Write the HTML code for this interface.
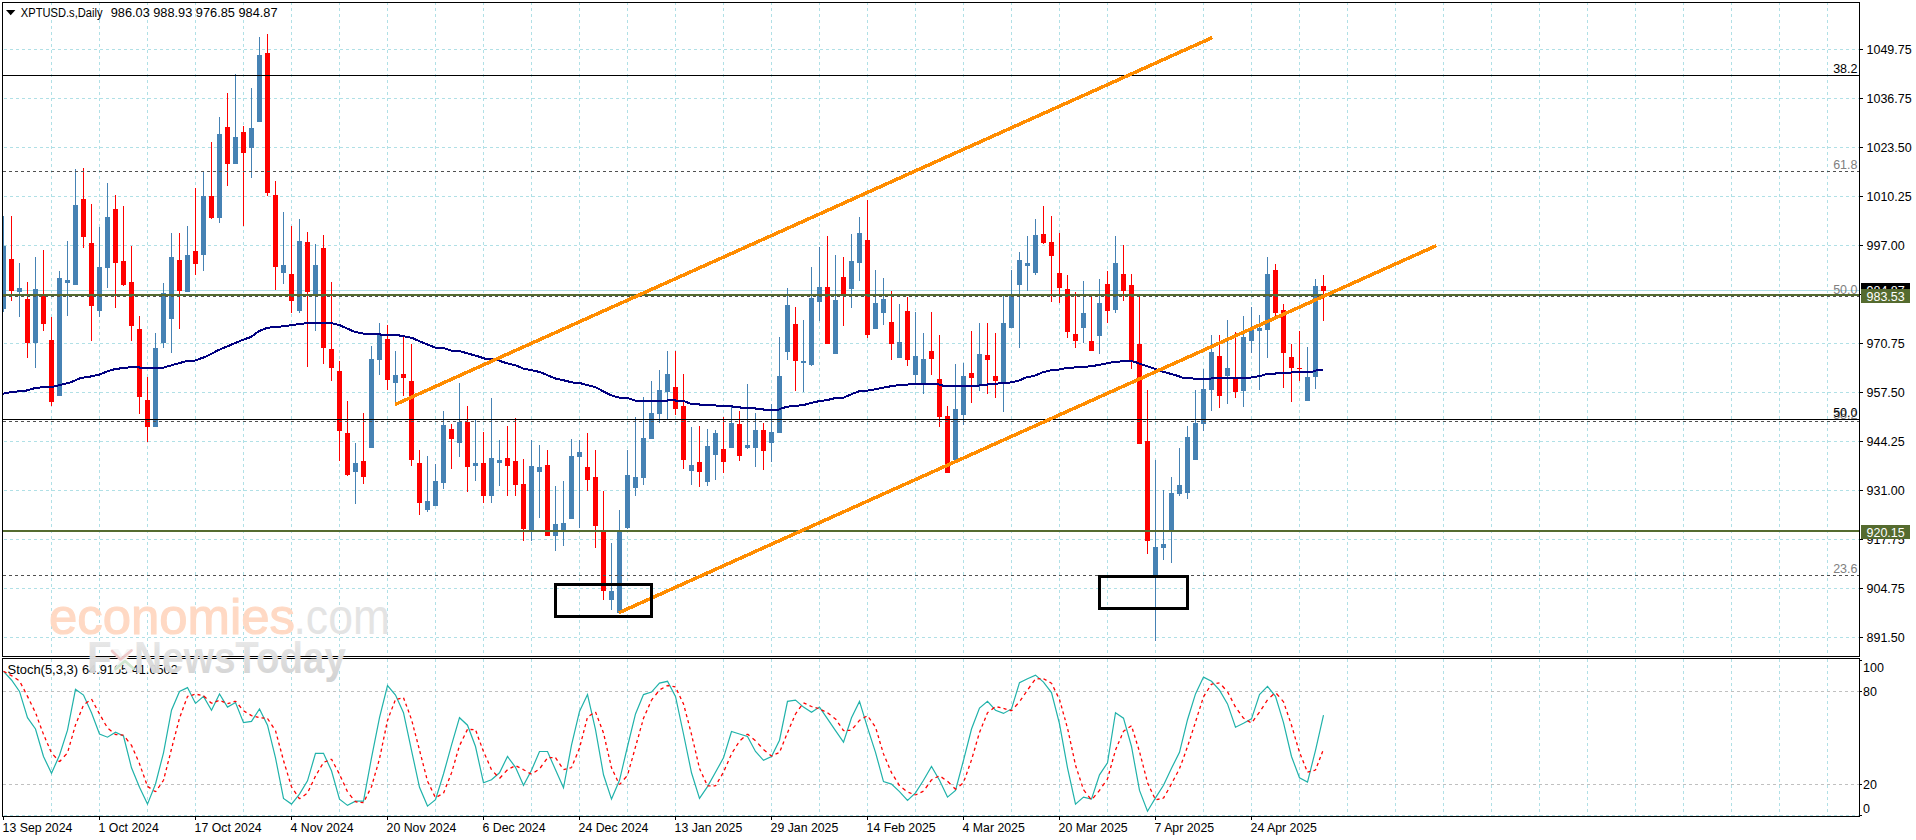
<!DOCTYPE html>
<html lang="en"><head><meta charset="utf-8"><title>XPTUSD.s Daily</title>
<style>html,body{margin:0;padding:0;background:#fff;overflow:hidden}svg{display:block}text{font-family:"Liberation Sans", sans-serif;font-size:12.5px;fill:#000}</style>
</head><body>
<svg width="1916" height="840" viewBox="0 0 1916 840">
<defs><linearGradient id="wg" x1="0" y1="0" x2="0" y2="1"><stop offset="0" stop-color="#ececec"/><stop offset="1" stop-color="#d0d0d0"/></linearGradient></defs>
<rect width="1916" height="840" fill="#fff"/>
<g shape-rendering="crispEdges" stroke="#b0e0e6" stroke-width="1" stroke-dasharray="3 3" fill="none">
<line x1="51.5" y1="2" x2="51.5" y2="656"/>
<line x1="51.5" y1="659" x2="51.5" y2="816"/>
<line x1="99.5" y1="2" x2="99.5" y2="656"/>
<line x1="99.5" y1="659" x2="99.5" y2="816"/>
<line x1="147.5" y1="2" x2="147.5" y2="656"/>
<line x1="147.5" y1="659" x2="147.5" y2="816"/>
<line x1="195.5" y1="2" x2="195.5" y2="656"/>
<line x1="195.5" y1="659" x2="195.5" y2="816"/>
<line x1="243.5" y1="2" x2="243.5" y2="656"/>
<line x1="243.5" y1="659" x2="243.5" y2="816"/>
<line x1="291.5" y1="2" x2="291.5" y2="656"/>
<line x1="291.5" y1="659" x2="291.5" y2="816"/>
<line x1="339.5" y1="2" x2="339.5" y2="656"/>
<line x1="339.5" y1="659" x2="339.5" y2="816"/>
<line x1="387.5" y1="2" x2="387.5" y2="656"/>
<line x1="387.5" y1="659" x2="387.5" y2="816"/>
<line x1="435.5" y1="2" x2="435.5" y2="656"/>
<line x1="435.5" y1="659" x2="435.5" y2="816"/>
<line x1="483.5" y1="2" x2="483.5" y2="656"/>
<line x1="483.5" y1="659" x2="483.5" y2="816"/>
<line x1="531.5" y1="2" x2="531.5" y2="656"/>
<line x1="531.5" y1="659" x2="531.5" y2="816"/>
<line x1="579.5" y1="2" x2="579.5" y2="656"/>
<line x1="579.5" y1="659" x2="579.5" y2="816"/>
<line x1="627.5" y1="2" x2="627.5" y2="656"/>
<line x1="627.5" y1="659" x2="627.5" y2="816"/>
<line x1="675.5" y1="2" x2="675.5" y2="656"/>
<line x1="675.5" y1="659" x2="675.5" y2="816"/>
<line x1="723.5" y1="2" x2="723.5" y2="656"/>
<line x1="723.5" y1="659" x2="723.5" y2="816"/>
<line x1="771.5" y1="2" x2="771.5" y2="656"/>
<line x1="771.5" y1="659" x2="771.5" y2="816"/>
<line x1="819.5" y1="2" x2="819.5" y2="656"/>
<line x1="819.5" y1="659" x2="819.5" y2="816"/>
<line x1="867.5" y1="2" x2="867.5" y2="656"/>
<line x1="867.5" y1="659" x2="867.5" y2="816"/>
<line x1="915.5" y1="2" x2="915.5" y2="656"/>
<line x1="915.5" y1="659" x2="915.5" y2="816"/>
<line x1="963.5" y1="2" x2="963.5" y2="656"/>
<line x1="963.5" y1="659" x2="963.5" y2="816"/>
<line x1="1011.5" y1="2" x2="1011.5" y2="656"/>
<line x1="1011.5" y1="659" x2="1011.5" y2="816"/>
<line x1="1059.5" y1="2" x2="1059.5" y2="656"/>
<line x1="1059.5" y1="659" x2="1059.5" y2="816"/>
<line x1="1107.5" y1="2" x2="1107.5" y2="656"/>
<line x1="1107.5" y1="659" x2="1107.5" y2="816"/>
<line x1="1155.5" y1="2" x2="1155.5" y2="656"/>
<line x1="1155.5" y1="659" x2="1155.5" y2="816"/>
<line x1="1203.5" y1="2" x2="1203.5" y2="656"/>
<line x1="1203.5" y1="659" x2="1203.5" y2="816"/>
<line x1="1251.5" y1="2" x2="1251.5" y2="656"/>
<line x1="1251.5" y1="659" x2="1251.5" y2="816"/>
<line x1="1299.5" y1="2" x2="1299.5" y2="656"/>
<line x1="1299.5" y1="659" x2="1299.5" y2="816"/>
<line x1="1347.5" y1="2" x2="1347.5" y2="656"/>
<line x1="1347.5" y1="659" x2="1347.5" y2="816"/>
<line x1="1395.5" y1="2" x2="1395.5" y2="656"/>
<line x1="1395.5" y1="659" x2="1395.5" y2="816"/>
<line x1="1443.5" y1="2" x2="1443.5" y2="656"/>
<line x1="1443.5" y1="659" x2="1443.5" y2="816"/>
<line x1="1491.5" y1="2" x2="1491.5" y2="656"/>
<line x1="1491.5" y1="659" x2="1491.5" y2="816"/>
<line x1="1539.5" y1="2" x2="1539.5" y2="656"/>
<line x1="1539.5" y1="659" x2="1539.5" y2="816"/>
<line x1="1587.5" y1="2" x2="1587.5" y2="656"/>
<line x1="1587.5" y1="659" x2="1587.5" y2="816"/>
<line x1="1635.5" y1="2" x2="1635.5" y2="656"/>
<line x1="1635.5" y1="659" x2="1635.5" y2="816"/>
<line x1="1683.5" y1="2" x2="1683.5" y2="656"/>
<line x1="1683.5" y1="659" x2="1683.5" y2="816"/>
<line x1="1731.5" y1="2" x2="1731.5" y2="656"/>
<line x1="1731.5" y1="659" x2="1731.5" y2="816"/>
<line x1="1779.5" y1="2" x2="1779.5" y2="656"/>
<line x1="1779.5" y1="659" x2="1779.5" y2="816"/>
<line x1="1827.5" y1="2" x2="1827.5" y2="656"/>
<line x1="1827.5" y1="659" x2="1827.5" y2="816"/>
<line x1="4" y1="49.5" x2="1859" y2="49.5"/>
<line x1="4" y1="98.5" x2="1859" y2="98.5"/>
<line x1="4" y1="147.5" x2="1859" y2="147.5"/>
<line x1="4" y1="196.5" x2="1859" y2="196.5"/>
<line x1="4" y1="245.5" x2="1859" y2="245.5"/>
<line x1="4" y1="294.5" x2="1859" y2="294.5"/>
<line x1="4" y1="343.5" x2="1859" y2="343.5"/>
<line x1="4" y1="392.5" x2="1859" y2="392.5"/>
<line x1="4" y1="441.5" x2="1859" y2="441.5"/>
<line x1="4" y1="490.5" x2="1859" y2="490.5"/>
<line x1="4" y1="539.5" x2="1859" y2="539.5"/>
<line x1="4" y1="588.5" x2="1859" y2="588.5"/>
<line x1="4" y1="637.5" x2="1859" y2="637.5"/>
<line x1="4" y1="815.5" x2="1859" y2="815.5"/>
</g>
<g shape-rendering="crispEdges" stroke="#c0c0c0" stroke-width="1" stroke-dasharray="3 3">
<line x1="3" y1="691.5" x2="1859" y2="691.5"/>
<line x1="3" y1="784.5" x2="1859" y2="784.5"/>
</g>
<rect x="3" y="290" width="1856" height="1" fill="#b0e0e6" shape-rendering="crispEdges"/>
<clipPath id="cc"><rect x="3" y="3" width="1856" height="653"/></clipPath>
<g shape-rendering="crispEdges" clip-path="url(#cc)">
<rect x="3" y="216" width="1" height="96" fill="#4682b4"/>
<rect x="1" y="246" width="5" height="63" fill="#4682b4"/>
<rect x="11" y="216" width="1" height="85" fill="#ff0000"/>
<rect x="9" y="259" width="5" height="32" fill="#ff0000"/>
<rect x="19" y="263" width="1" height="54" fill="#4682b4"/>
<rect x="17" y="288" width="5" height="4" fill="#4682b4"/>
<rect x="27" y="282" width="1" height="76" fill="#ff0000"/>
<rect x="25" y="299" width="5" height="44" fill="#ff0000"/>
<rect x="35" y="257" width="1" height="111" fill="#4682b4"/>
<rect x="33" y="289" width="5" height="54" fill="#4682b4"/>
<rect x="43" y="250" width="1" height="81" fill="#ff0000"/>
<rect x="41" y="296" width="5" height="28" fill="#ff0000"/>
<rect x="51" y="317" width="1" height="89" fill="#ff0000"/>
<rect x="49" y="340" width="5" height="62" fill="#ff0000"/>
<rect x="59" y="271" width="1" height="125" fill="#4682b4"/>
<rect x="57" y="278" width="5" height="118" fill="#4682b4"/>
<rect x="67" y="241" width="1" height="75" fill="#4682b4"/>
<rect x="65" y="280" width="5" height="3" fill="#4682b4"/>
<rect x="75" y="169" width="1" height="116" fill="#4682b4"/>
<rect x="73" y="205" width="5" height="80" fill="#4682b4"/>
<rect x="83" y="168" width="1" height="80" fill="#ff0000"/>
<rect x="81" y="199" width="5" height="38" fill="#ff0000"/>
<rect x="91" y="204" width="1" height="137" fill="#ff0000"/>
<rect x="89" y="243" width="5" height="63" fill="#ff0000"/>
<rect x="99" y="227" width="1" height="90" fill="#4682b4"/>
<rect x="97" y="267" width="5" height="44" fill="#4682b4"/>
<rect x="107" y="183" width="1" height="105" fill="#4682b4"/>
<rect x="105" y="217" width="5" height="51" fill="#4682b4"/>
<rect x="115" y="195" width="1" height="113" fill="#ff0000"/>
<rect x="113" y="209" width="5" height="54" fill="#ff0000"/>
<rect x="123" y="206" width="1" height="80" fill="#ff0000"/>
<rect x="121" y="261" width="5" height="24" fill="#ff0000"/>
<rect x="131" y="246" width="1" height="95" fill="#ff0000"/>
<rect x="129" y="282" width="5" height="44" fill="#ff0000"/>
<rect x="139" y="316" width="1" height="98" fill="#ff0000"/>
<rect x="137" y="329" width="5" height="68" fill="#ff0000"/>
<rect x="147" y="377" width="1" height="65" fill="#ff0000"/>
<rect x="145" y="400" width="5" height="27" fill="#ff0000"/>
<rect x="155" y="333" width="1" height="94" fill="#4682b4"/>
<rect x="153" y="348" width="5" height="79" fill="#4682b4"/>
<rect x="163" y="283" width="1" height="65" fill="#4682b4"/>
<rect x="161" y="293" width="5" height="50" fill="#4682b4"/>
<rect x="171" y="233" width="1" height="120" fill="#4682b4"/>
<rect x="169" y="257" width="5" height="62" fill="#4682b4"/>
<rect x="179" y="233" width="1" height="96" fill="#ff0000"/>
<rect x="177" y="260" width="5" height="31" fill="#ff0000"/>
<rect x="187" y="226" width="1" height="66" fill="#4682b4"/>
<rect x="185" y="255" width="5" height="37" fill="#4682b4"/>
<rect x="195" y="188" width="1" height="87" fill="#ff0000"/>
<rect x="193" y="251" width="5" height="13" fill="#ff0000"/>
<rect x="203" y="171" width="1" height="100" fill="#4682b4"/>
<rect x="201" y="196" width="5" height="59" fill="#4682b4"/>
<rect x="211" y="142" width="1" height="77" fill="#ff0000"/>
<rect x="209" y="196" width="5" height="22" fill="#ff0000"/>
<rect x="219" y="117" width="1" height="106" fill="#4682b4"/>
<rect x="217" y="134" width="5" height="84" fill="#4682b4"/>
<rect x="227" y="93" width="1" height="93" fill="#ff0000"/>
<rect x="225" y="127" width="5" height="37" fill="#ff0000"/>
<rect x="235" y="74" width="1" height="90" fill="#4682b4"/>
<rect x="233" y="137" width="5" height="27" fill="#4682b4"/>
<rect x="243" y="126" width="1" height="100" fill="#ff0000"/>
<rect x="241" y="132" width="5" height="21" fill="#ff0000"/>
<rect x="251" y="88" width="1" height="90" fill="#4682b4"/>
<rect x="249" y="128" width="5" height="20" fill="#4682b4"/>
<rect x="259" y="37" width="1" height="85" fill="#4682b4"/>
<rect x="257" y="55" width="5" height="67" fill="#4682b4"/>
<rect x="267" y="34" width="1" height="162" fill="#ff0000"/>
<rect x="265" y="53" width="5" height="140" fill="#ff0000"/>
<rect x="275" y="181" width="1" height="109" fill="#ff0000"/>
<rect x="273" y="195" width="5" height="72" fill="#ff0000"/>
<rect x="283" y="212" width="1" height="72" fill="#4682b4"/>
<rect x="281" y="265" width="5" height="8" fill="#4682b4"/>
<rect x="291" y="226" width="1" height="87" fill="#ff0000"/>
<rect x="289" y="274" width="5" height="27" fill="#ff0000"/>
<rect x="299" y="219" width="1" height="94" fill="#4682b4"/>
<rect x="297" y="241" width="5" height="70" fill="#4682b4"/>
<rect x="307" y="232" width="1" height="135" fill="#ff0000"/>
<rect x="305" y="242" width="5" height="50" fill="#ff0000"/>
<rect x="315" y="244" width="1" height="87" fill="#4682b4"/>
<rect x="313" y="265" width="5" height="30" fill="#4682b4"/>
<rect x="323" y="235" width="1" height="129" fill="#ff0000"/>
<rect x="321" y="248" width="5" height="100" fill="#ff0000"/>
<rect x="331" y="282" width="1" height="99" fill="#ff0000"/>
<rect x="329" y="349" width="5" height="19" fill="#ff0000"/>
<rect x="339" y="361" width="1" height="100" fill="#ff0000"/>
<rect x="337" y="371" width="5" height="60" fill="#ff0000"/>
<rect x="347" y="401" width="1" height="75" fill="#ff0000"/>
<rect x="345" y="433" width="5" height="42" fill="#ff0000"/>
<rect x="355" y="443" width="1" height="61" fill="#4682b4"/>
<rect x="353" y="463" width="5" height="9" fill="#4682b4"/>
<rect x="363" y="413" width="1" height="71" fill="#ff0000"/>
<rect x="361" y="461" width="5" height="16" fill="#ff0000"/>
<rect x="371" y="346" width="1" height="102" fill="#4682b4"/>
<rect x="369" y="359" width="5" height="89" fill="#4682b4"/>
<rect x="379" y="323" width="1" height="52" fill="#4682b4"/>
<rect x="377" y="335" width="5" height="25" fill="#4682b4"/>
<rect x="387" y="325" width="1" height="65" fill="#ff0000"/>
<rect x="385" y="339" width="5" height="41" fill="#ff0000"/>
<rect x="395" y="351" width="1" height="53" fill="#4682b4"/>
<rect x="393" y="375" width="5" height="8" fill="#4682b4"/>
<rect x="403" y="336" width="1" height="60" fill="#ff0000"/>
<rect x="401" y="374" width="5" height="4" fill="#ff0000"/>
<rect x="411" y="344" width="1" height="122" fill="#ff0000"/>
<rect x="409" y="381" width="5" height="79" fill="#ff0000"/>
<rect x="419" y="450" width="1" height="65" fill="#ff0000"/>
<rect x="417" y="463" width="5" height="40" fill="#ff0000"/>
<rect x="427" y="456" width="1" height="56" fill="#4682b4"/>
<rect x="425" y="501" width="5" height="9" fill="#4682b4"/>
<rect x="435" y="464" width="1" height="42" fill="#4682b4"/>
<rect x="433" y="481" width="5" height="25" fill="#4682b4"/>
<rect x="443" y="411" width="1" height="78" fill="#4682b4"/>
<rect x="441" y="425" width="5" height="58" fill="#4682b4"/>
<rect x="451" y="424" width="1" height="45" fill="#ff0000"/>
<rect x="449" y="429" width="5" height="10" fill="#ff0000"/>
<rect x="459" y="383" width="1" height="74" fill="#4682b4"/>
<rect x="457" y="422" width="5" height="21" fill="#4682b4"/>
<rect x="467" y="406" width="1" height="86" fill="#ff0000"/>
<rect x="465" y="422" width="5" height="45" fill="#ff0000"/>
<rect x="475" y="420" width="1" height="61" fill="#4682b4"/>
<rect x="473" y="463" width="5" height="3" fill="#4682b4"/>
<rect x="483" y="432" width="1" height="71" fill="#ff0000"/>
<rect x="481" y="463" width="5" height="33" fill="#ff0000"/>
<rect x="491" y="398" width="1" height="105" fill="#4682b4"/>
<rect x="489" y="458" width="5" height="38" fill="#4682b4"/>
<rect x="499" y="440" width="1" height="46" fill="#4682b4"/>
<rect x="497" y="460" width="5" height="3" fill="#4682b4"/>
<rect x="507" y="426" width="1" height="70" fill="#ff0000"/>
<rect x="505" y="458" width="5" height="8" fill="#ff0000"/>
<rect x="515" y="418" width="1" height="78" fill="#ff0000"/>
<rect x="513" y="461" width="5" height="24" fill="#ff0000"/>
<rect x="523" y="459" width="1" height="82" fill="#ff0000"/>
<rect x="521" y="484" width="5" height="45" fill="#ff0000"/>
<rect x="531" y="440" width="1" height="101" fill="#4682b4"/>
<rect x="529" y="466" width="5" height="66" fill="#4682b4"/>
<rect x="539" y="445" width="1" height="73" fill="#4682b4"/>
<rect x="537" y="467" width="5" height="5" fill="#4682b4"/>
<rect x="547" y="450" width="1" height="86" fill="#ff0000"/>
<rect x="545" y="465" width="5" height="71" fill="#ff0000"/>
<rect x="555" y="486" width="1" height="65" fill="#4682b4"/>
<rect x="553" y="524" width="5" height="12" fill="#4682b4"/>
<rect x="563" y="481" width="1" height="65" fill="#4682b4"/>
<rect x="561" y="523" width="5" height="7" fill="#4682b4"/>
<rect x="571" y="439" width="1" height="80" fill="#4682b4"/>
<rect x="569" y="456" width="5" height="63" fill="#4682b4"/>
<rect x="579" y="440" width="1" height="88" fill="#4682b4"/>
<rect x="577" y="452" width="5" height="5" fill="#4682b4"/>
<rect x="587" y="433" width="1" height="58" fill="#ff0000"/>
<rect x="585" y="467" width="5" height="13" fill="#ff0000"/>
<rect x="595" y="450" width="1" height="98" fill="#ff0000"/>
<rect x="593" y="477" width="5" height="49" fill="#ff0000"/>
<rect x="603" y="491" width="1" height="109" fill="#ff0000"/>
<rect x="601" y="531" width="5" height="60" fill="#ff0000"/>
<rect x="611" y="543" width="1" height="67" fill="#4682b4"/>
<rect x="609" y="591" width="5" height="9" fill="#4682b4"/>
<rect x="619" y="510" width="1" height="103" fill="#4682b4"/>
<rect x="617" y="531" width="5" height="82" fill="#4682b4"/>
<rect x="627" y="450" width="1" height="79" fill="#4682b4"/>
<rect x="625" y="475" width="5" height="53" fill="#4682b4"/>
<rect x="635" y="417" width="1" height="79" fill="#4682b4"/>
<rect x="633" y="477" width="5" height="11" fill="#4682b4"/>
<rect x="643" y="397" width="1" height="88" fill="#4682b4"/>
<rect x="641" y="438" width="5" height="40" fill="#4682b4"/>
<rect x="651" y="381" width="1" height="58" fill="#4682b4"/>
<rect x="649" y="413" width="5" height="26" fill="#4682b4"/>
<rect x="659" y="370" width="1" height="53" fill="#4682b4"/>
<rect x="657" y="390" width="5" height="24" fill="#4682b4"/>
<rect x="667" y="351" width="1" height="68" fill="#4682b4"/>
<rect x="665" y="374" width="5" height="18" fill="#4682b4"/>
<rect x="675" y="351" width="1" height="64" fill="#ff0000"/>
<rect x="673" y="387" width="5" height="22" fill="#ff0000"/>
<rect x="683" y="374" width="1" height="95" fill="#ff0000"/>
<rect x="681" y="406" width="5" height="54" fill="#ff0000"/>
<rect x="691" y="427" width="1" height="58" fill="#4682b4"/>
<rect x="689" y="465" width="5" height="6" fill="#4682b4"/>
<rect x="699" y="426" width="1" height="61" fill="#ff0000"/>
<rect x="697" y="462" width="5" height="10" fill="#ff0000"/>
<rect x="707" y="429" width="1" height="57" fill="#4682b4"/>
<rect x="705" y="446" width="5" height="36" fill="#4682b4"/>
<rect x="715" y="430" width="1" height="50" fill="#4682b4"/>
<rect x="713" y="433" width="5" height="22" fill="#4682b4"/>
<rect x="723" y="417" width="1" height="56" fill="#ff0000"/>
<rect x="721" y="449" width="5" height="13" fill="#ff0000"/>
<rect x="731" y="407" width="1" height="41" fill="#4682b4"/>
<rect x="729" y="423" width="5" height="25" fill="#4682b4"/>
<rect x="739" y="411" width="1" height="50" fill="#ff0000"/>
<rect x="737" y="424" width="5" height="32" fill="#ff0000"/>
<rect x="747" y="384" width="1" height="65" fill="#4682b4"/>
<rect x="745" y="445" width="5" height="3" fill="#4682b4"/>
<rect x="755" y="413" width="1" height="54" fill="#4682b4"/>
<rect x="753" y="430" width="5" height="18" fill="#4682b4"/>
<rect x="763" y="423" width="1" height="47" fill="#ff0000"/>
<rect x="761" y="430" width="5" height="21" fill="#ff0000"/>
<rect x="771" y="404" width="1" height="58" fill="#4682b4"/>
<rect x="769" y="432" width="5" height="11" fill="#4682b4"/>
<rect x="779" y="337" width="1" height="96" fill="#4682b4"/>
<rect x="777" y="376" width="5" height="57" fill="#4682b4"/>
<rect x="787" y="288" width="1" height="72" fill="#4682b4"/>
<rect x="785" y="305" width="5" height="47" fill="#4682b4"/>
<rect x="795" y="307" width="1" height="84" fill="#ff0000"/>
<rect x="793" y="324" width="5" height="37" fill="#ff0000"/>
<rect x="803" y="320" width="1" height="72" fill="#4682b4"/>
<rect x="801" y="361" width="5" height="2" fill="#4682b4"/>
<rect x="811" y="267" width="1" height="99" fill="#4682b4"/>
<rect x="809" y="298" width="5" height="67" fill="#4682b4"/>
<rect x="819" y="247" width="1" height="74" fill="#4682b4"/>
<rect x="817" y="287" width="5" height="15" fill="#4682b4"/>
<rect x="827" y="236" width="1" height="108" fill="#ff0000"/>
<rect x="825" y="287" width="5" height="57" fill="#ff0000"/>
<rect x="835" y="255" width="1" height="99" fill="#4682b4"/>
<rect x="833" y="300" width="5" height="54" fill="#4682b4"/>
<rect x="843" y="257" width="1" height="69" fill="#ff0000"/>
<rect x="841" y="277" width="5" height="19" fill="#ff0000"/>
<rect x="851" y="234" width="1" height="74" fill="#4682b4"/>
<rect x="849" y="261" width="5" height="28" fill="#4682b4"/>
<rect x="859" y="217" width="1" height="64" fill="#4682b4"/>
<rect x="857" y="233" width="5" height="30" fill="#4682b4"/>
<rect x="867" y="200" width="1" height="138" fill="#ff0000"/>
<rect x="865" y="240" width="5" height="95" fill="#ff0000"/>
<rect x="875" y="270" width="1" height="59" fill="#4682b4"/>
<rect x="873" y="303" width="5" height="26" fill="#4682b4"/>
<rect x="883" y="278" width="1" height="47" fill="#4682b4"/>
<rect x="881" y="299" width="5" height="14" fill="#4682b4"/>
<rect x="891" y="291" width="1" height="69" fill="#ff0000"/>
<rect x="889" y="322" width="5" height="22" fill="#ff0000"/>
<rect x="899" y="304" width="1" height="54" fill="#4682b4"/>
<rect x="897" y="342" width="5" height="16" fill="#4682b4"/>
<rect x="907" y="297" width="1" height="69" fill="#ff0000"/>
<rect x="905" y="311" width="5" height="49" fill="#ff0000"/>
<rect x="915" y="312" width="1" height="71" fill="#4682b4"/>
<rect x="913" y="356" width="5" height="19" fill="#4682b4"/>
<rect x="923" y="333" width="1" height="61" fill="#4682b4"/>
<rect x="921" y="359" width="5" height="25" fill="#4682b4"/>
<rect x="931" y="312" width="1" height="63" fill="#ff0000"/>
<rect x="929" y="351" width="5" height="8" fill="#ff0000"/>
<rect x="939" y="335" width="1" height="92" fill="#ff0000"/>
<rect x="937" y="379" width="5" height="38" fill="#ff0000"/>
<rect x="947" y="406" width="1" height="67" fill="#ff0000"/>
<rect x="945" y="416" width="5" height="57" fill="#ff0000"/>
<rect x="955" y="364" width="1" height="96" fill="#4682b4"/>
<rect x="953" y="409" width="5" height="51" fill="#4682b4"/>
<rect x="963" y="363" width="1" height="62" fill="#4682b4"/>
<rect x="961" y="376" width="5" height="39" fill="#4682b4"/>
<rect x="971" y="331" width="1" height="72" fill="#ff0000"/>
<rect x="969" y="373" width="5" height="5" fill="#ff0000"/>
<rect x="979" y="323" width="1" height="68" fill="#4682b4"/>
<rect x="977" y="354" width="5" height="31" fill="#4682b4"/>
<rect x="987" y="323" width="1" height="71" fill="#ff0000"/>
<rect x="985" y="355" width="5" height="5" fill="#ff0000"/>
<rect x="995" y="333" width="1" height="65" fill="#ff0000"/>
<rect x="993" y="376" width="5" height="5" fill="#ff0000"/>
<rect x="1003" y="296" width="1" height="116" fill="#4682b4"/>
<rect x="1001" y="323" width="5" height="60" fill="#4682b4"/>
<rect x="1011" y="270" width="1" height="58" fill="#4682b4"/>
<rect x="1009" y="295" width="5" height="33" fill="#4682b4"/>
<rect x="1019" y="252" width="1" height="96" fill="#4682b4"/>
<rect x="1017" y="260" width="5" height="25" fill="#4682b4"/>
<rect x="1027" y="236" width="1" height="55" fill="#4682b4"/>
<rect x="1025" y="263" width="5" height="3" fill="#4682b4"/>
<rect x="1035" y="219" width="1" height="56" fill="#4682b4"/>
<rect x="1033" y="235" width="5" height="38" fill="#4682b4"/>
<rect x="1043" y="206" width="1" height="38" fill="#ff0000"/>
<rect x="1041" y="234" width="5" height="9" fill="#ff0000"/>
<rect x="1051" y="216" width="1" height="86" fill="#ff0000"/>
<rect x="1049" y="242" width="5" height="14" fill="#ff0000"/>
<rect x="1059" y="233" width="1" height="70" fill="#ff0000"/>
<rect x="1057" y="273" width="5" height="15" fill="#ff0000"/>
<rect x="1067" y="275" width="1" height="63" fill="#ff0000"/>
<rect x="1065" y="289" width="5" height="43" fill="#ff0000"/>
<rect x="1075" y="292" width="1" height="56" fill="#ff0000"/>
<rect x="1073" y="334" width="5" height="7" fill="#ff0000"/>
<rect x="1083" y="281" width="1" height="62" fill="#4682b4"/>
<rect x="1081" y="313" width="5" height="15" fill="#4682b4"/>
<rect x="1091" y="296" width="1" height="55" fill="#ff0000"/>
<rect x="1089" y="341" width="5" height="10" fill="#ff0000"/>
<rect x="1099" y="279" width="1" height="75" fill="#4682b4"/>
<rect x="1097" y="303" width="5" height="33" fill="#4682b4"/>
<rect x="1107" y="271" width="1" height="52" fill="#ff0000"/>
<rect x="1105" y="284" width="5" height="27" fill="#ff0000"/>
<rect x="1115" y="236" width="1" height="77" fill="#4682b4"/>
<rect x="1113" y="263" width="5" height="47" fill="#4682b4"/>
<rect x="1123" y="245" width="1" height="56" fill="#ff0000"/>
<rect x="1121" y="274" width="5" height="17" fill="#ff0000"/>
<rect x="1131" y="274" width="1" height="95" fill="#ff0000"/>
<rect x="1129" y="285" width="5" height="76" fill="#ff0000"/>
<rect x="1139" y="297" width="1" height="147" fill="#ff0000"/>
<rect x="1137" y="344" width="5" height="100" fill="#ff0000"/>
<rect x="1147" y="390" width="1" height="164" fill="#ff0000"/>
<rect x="1145" y="441" width="5" height="100" fill="#ff0000"/>
<rect x="1155" y="460" width="1" height="181" fill="#4682b4"/>
<rect x="1153" y="547" width="5" height="28" fill="#4682b4"/>
<rect x="1163" y="490" width="1" height="70" fill="#4682b4"/>
<rect x="1161" y="544" width="5" height="4" fill="#4682b4"/>
<rect x="1171" y="477" width="1" height="86" fill="#4682b4"/>
<rect x="1169" y="493" width="5" height="37" fill="#4682b4"/>
<rect x="1179" y="448" width="1" height="48" fill="#4682b4"/>
<rect x="1177" y="485" width="5" height="9" fill="#4682b4"/>
<rect x="1187" y="426" width="1" height="73" fill="#4682b4"/>
<rect x="1185" y="437" width="5" height="56" fill="#4682b4"/>
<rect x="1195" y="390" width="1" height="70" fill="#4682b4"/>
<rect x="1193" y="423" width="5" height="37" fill="#4682b4"/>
<rect x="1203" y="369" width="1" height="62" fill="#4682b4"/>
<rect x="1201" y="389" width="5" height="35" fill="#4682b4"/>
<rect x="1211" y="335" width="1" height="76" fill="#4682b4"/>
<rect x="1209" y="352" width="5" height="38" fill="#4682b4"/>
<rect x="1219" y="335" width="1" height="73" fill="#ff0000"/>
<rect x="1217" y="356" width="5" height="40" fill="#ff0000"/>
<rect x="1227" y="320" width="1" height="84" fill="#4682b4"/>
<rect x="1225" y="368" width="5" height="8" fill="#4682b4"/>
<rect x="1235" y="332" width="1" height="66" fill="#ff0000"/>
<rect x="1233" y="378" width="5" height="14" fill="#ff0000"/>
<rect x="1243" y="316" width="1" height="91" fill="#4682b4"/>
<rect x="1241" y="337" width="5" height="54" fill="#4682b4"/>
<rect x="1251" y="307" width="1" height="46" fill="#4682b4"/>
<rect x="1249" y="329" width="5" height="12" fill="#4682b4"/>
<rect x="1259" y="315" width="1" height="75" fill="#4682b4"/>
<rect x="1257" y="328" width="5" height="3" fill="#4682b4"/>
<rect x="1267" y="257" width="1" height="101" fill="#4682b4"/>
<rect x="1265" y="274" width="5" height="56" fill="#4682b4"/>
<rect x="1275" y="264" width="1" height="52" fill="#ff0000"/>
<rect x="1273" y="270" width="5" height="43" fill="#ff0000"/>
<rect x="1283" y="304" width="1" height="84" fill="#ff0000"/>
<rect x="1281" y="310" width="5" height="43" fill="#ff0000"/>
<rect x="1291" y="344" width="1" height="58" fill="#ff0000"/>
<rect x="1289" y="357" width="5" height="11" fill="#ff0000"/>
<rect x="1299" y="331" width="1" height="50" fill="#ff0000"/>
<rect x="1297" y="368" width="5" height="1" fill="#ff0000"/>
<rect x="1307" y="347" width="1" height="54" fill="#4682b4"/>
<rect x="1305" y="377" width="5" height="24" fill="#4682b4"/>
<rect x="1315" y="279" width="1" height="110" fill="#4682b4"/>
<rect x="1313" y="286" width="5" height="91" fill="#4682b4"/>
<rect x="1323" y="275" width="1" height="46" fill="#ff0000"/>
<rect x="1321" y="286" width="5" height="5" fill="#ff0000"/>
</g>
<polyline shape-rendering="crispEdges" fill="none" stroke="#000080" stroke-width="2" points="3,393.75 12.5,391.9 25,390.9 35,388.1 43.75,387.1 53.75,386.5 60,385 70,382.5 81,377.9 90,376.6 100,374.4 106,371.9 115,369 125,367.9 132.5,366.9 138,366.9 140.6,367.9 162.5,367.9 172.5,365 185,361.5 195,360.6 205,356.9 218.75,350 240,341 251,336.9 258.75,331.25 267.5,327.75 275,327.1 283.75,326.25 292.5,325 300,324 307.5,323.1 331.25,323.1 340,325.25 347.5,328.75 355,331.9 363.75,333.75 378.75,334 381.25,334.75 395,334.75 402.5,336 412.5,338.1 422.5,342.5 435,347.5 443.75,348.1 452.5,350.9 460,351.25 480,356.9 485,358.75 497.5,360 505,362.75 516,365.4 523.75,368.75 531,370 540,372.1 547.5,375.25 555,378.4 562.5,380 572.5,382.5 580,383.1 587.5,385.25 595,386.9 602.5,390.9 611,395.25 618.75,397.5 627.5,398.1 635,400.6 667.5,400.6 668.75,399.6 674,399.6 676,400.9 683,400.9 691,403.75 698.75,403.75 700,404.75 715,404.75 716,405.6 731,405.6 732.5,406.6 739,406.6 740.6,407.75 755,407.75 756,408.75 763,408.75 764,409.75 778.75,409.75 781,408.5 787.5,406.6 795,406 803.75,405 811,402.9 820,401 827.5,400 835,398.1 843.75,397.5 851,394.4 860,390.9 867,390.6 875,389.4 884,387.5 891,386.25 900,385 916,384 937,384 943,385.6 979,385.6 981,384.6 995,384.4 998,383.5 1010,382.5 1019,380.6 1026,377.5 1035,375.6 1042,372.5 1051,370.25 1060,369.4 1067,367.9 1082,367.1 1091,366.25 1100,364.75 1111,362.5 1116,361.9 1125,360.9 1131,360.9 1135,362 1140,363.75 1155,368.75 1162,371.5 1175,375 1183,377.75 1196,378.75 1210,378.75 1213,377.75 1250,377.75 1260,376 1267,374 1275,373.75 1277,372.5 1291,372.5 1293,371.5 1313,371.5 1318,370 1323,369.75"/>
<g shape-rendering="crispEdges">
<rect x="3" y="75" width="1856" height="1" fill="#000"/>
<rect x="3" y="419" width="1856" height="1" fill="#000"/>
<g stroke="#505050" stroke-width="1" stroke-dasharray="3 3">
<line x1="3" y1="171.5" x2="1859" y2="171.5"/>
<line x1="3" y1="296.5" x2="1859" y2="296.5"/>
<line x1="3" y1="421.5" x2="1859" y2="421.5"/>
<line x1="3" y1="575.5" x2="1859" y2="575.5"/>
</g>
<rect x="3" y="294" width="1856" height="2" fill="#556b2f"/>
<rect x="3" y="530" width="1856" height="2" fill="#556b2f"/>
</g>
<g shape-rendering="crispEdges" stroke="#ff8c00" stroke-width="3.5" stroke-linecap="butt">
<line x1="395" y1="404.6" x2="1212.3" y2="37.6"/>
<line x1="619" y1="612.7" x2="1436.2" y2="245.7"/>
</g>
<g shape-rendering="crispEdges" fill="none" stroke="#000" stroke-width="3" stroke-linejoin="round">
<rect x="555.5" y="584.5" width="96" height="32"/>
<rect x="1099.5" y="576.5" width="88" height="32"/>
</g>
<polyline fill="none" stroke="#20b2aa" stroke-width="1.2" points="3.5,671.3 11.5,680 19.5,691.4 27.5,717.7 35.5,729 43.5,756.5 51.5,773.3 59.5,755.3 67.5,730.2 75.5,689.3 83.5,695.1 91.5,712.7 99.5,734 107.5,737.2 115.5,732.2 123.5,736 131.5,767.8 139.5,787.3 147.5,804.1 155.5,784 163.5,752.8 171.5,710.2 179.5,691.4 187.5,687.6 195.5,703.4 203.5,696.4 211.5,710.2 219.5,693.9 227.5,707.1 235.5,702.6 243.5,722.7 251.5,721.4 259.5,708.9 267.5,725.2 275.5,757.8 283.5,798.4 291.5,804.1 299.5,794.1 307.5,780.8 315.5,753.3 323.5,753.3 331.5,770.8 339.5,799.1 347.5,805.4 355.5,801.1 363.5,801.1 371.5,757.8 379.5,717.7 387.5,685.6 395.5,695.1 403.5,712.7 411.5,750.3 419.5,787.3 427.5,806.1 435.5,799.6 443.5,774 451.5,745.2 459.5,717.7 467.5,725.2 475.5,746.5 483.5,782.8 491.5,779.8 499.5,772.8 507.5,756.5 515.5,767.3 523.5,785.3 531.5,770.3 539.5,751.5 547.5,751.5 555.5,769.8 563.5,787.8 571.5,745.2 579.5,711.4 587.5,694.6 595.5,729.7 603.5,774.8 611.5,799.1 619.5,780.3 627.5,746.5 635.5,713.9 643.5,694.6 651.5,692.1 659.5,683.1 667.5,681.3 675.5,696.4 683.5,734 691.5,772.8 699.5,798.4 707.5,786.6 715.5,772.3 723.5,757.8 731.5,731.5 739.5,734 747.5,736.5 755.5,751.5 763.5,760.3 771.5,756.5 779.5,740.2 787.5,701.4 795.5,700.1 803.5,707.1 811.5,712.2 819.5,707.1 827.5,718.9 835.5,730.7 843.5,742.2 851.5,717.7 859.5,701.4 867.5,727.7 875.5,752.3 883.5,781.6 891.5,784.1 899.5,791.6 907.5,800.4 915.5,792.9 923.5,780.3 931.5,766.5 939.5,780.3 947.5,797.1 955.5,790.4 963.5,760.3 971.5,729 979.5,708.1 987.5,701.4 995.5,710.2 1003.5,713.4 1011.5,708.9 1019.5,682.6 1027.5,678.8 1035.5,675.1 1043.5,682.1 1051.5,692.6 1059.5,723.9 1067.5,767.8 1075.5,804.1 1083.5,797.1 1091.5,799.1 1099.5,774.8 1107.5,762.8 1115.5,712.7 1123.5,718.2 1131.5,746.5 1139.5,790.4 1147.5,811.2 1155.5,797.9 1163.5,785.3 1171.5,768.3 1179.5,752.3 1187.5,719.7 1195.5,693.9 1203.5,677.1 1211.5,681.3 1219.5,690.1 1227.5,703.9 1235.5,727.2 1243.5,723.2 1251.5,718.9 1259.5,694.6 1267.5,686.3 1275.5,696.4 1283.5,722.7 1291.5,756.5 1299.5,777.8 1307.5,782.1 1315.5,750.3 1323.5,715.2"/>
<path fill="none" stroke="#ff0000" stroke-width="1.3" d="M3.5 671.3L6.5 672.9M9.5 674.6L11.5 675.6M11.5 675.6L12.5 676.3M15.5 678.3L18.5 680.2M20.6 683.0L22.2 686.1M23.8 689.1L25.4 692.2M27.0 695.3L27.5 696.4M27.5 696.4L28.5 698.4M30.0 701.5L31.5 704.5M33.0 707.6L34.5 710.7M35.9 713.7L37.0 716.6M38.0 719.6L39.1 722.6M40.2 725.5L41.3 728.5M42.4 731.4L43.5 734.4M44.8 737.3L46.0 740.3M47.3 743.2L48.6 746.1M49.8 749.0L51.1 752.0M53.3 754.9L55.9 757.8M58.6 760.7L59.5 761.7M59.5 761.7L61.3 759.8M63.9 756.8L66.6 753.9M68.1 750.9L68.9 747.9M69.8 744.9L70.6 741.9M71.5 738.9L72.4 735.9M73.2 732.9L74.1 729.9M74.9 726.9L75.5 724.9M75.5 724.9L75.9 723.9M77.1 720.9L78.3 717.9M79.5 714.9L80.7 711.9M81.9 708.9L83.1 705.9M85.5 703.4L88.5 701.2M91.5 699.0L93.1 702.0M94.7 705.0L96.3 708.0M97.9 711.0L99.5 713.9M101.2 716.9L102.9 719.9M104.6 723.0L106.4 726.0M108.5 728.8L111.5 731.2M114.5 733.7L115.5 734.5M115.5 734.5L117.5 734.6M120.5 734.9L123.5 735.1M125.9 738.2L128.3 741.3M130.7 744.3L131.5 745.3M131.5 745.3L132.4 747.4M133.7 750.4L135.1 753.5M136.4 756.6L137.7 759.6M139.1 762.7L139.5 763.7M139.5 763.7L140.2 765.7M141.2 768.6L142.3 771.6M143.3 774.6L144.4 777.5M145.4 780.5L146.5 783.4M147.5 786.4L150.5 788.4M153.5 790.5L155.5 791.8M155.5 791.8L156.2 790.8M158.2 788.0L160.2 785.1M162.2 782.2L163.5 780.3M163.5 780.3L163.8 779.3M164.5 776.3L165.3 773.2M166.1 770.2L166.9 767.2M167.6 764.1L168.4 761.1M169.2 758.1L170.0 755.1M170.7 752.0L171.5 749.0M172.3 746.0L173.0 743.0M173.8 740.0L174.6 737.1M175.4 734.1L176.1 731.1M176.9 728.1L177.7 725.1M178.5 722.1L179.2 719.1M180.2 716.2L181.3 713.2M182.4 710.2L183.5 707.3M184.6 704.3L185.7 701.3M186.8 698.4L187.5 696.4M187.5 696.4L188.5 696.1M191.5 695.3L194.5 694.4M197.5 694.5L200.5 695.2M203.5 695.8L206.5 698.6M209.5 701.5L211.5 703.3M211.5 703.3L212.5 702.9M215.5 701.8L218.5 700.6M221.5 701.1L224.5 702.4M227.5 703.7L230.5 702.8M233.5 701.8L235.5 701.2M235.5 701.2L236.3 702.2M238.7 705.0L241.1 707.9M243.5 710.8L246.5 712.6M249.5 714.4L251.5 715.6M251.5 715.6L252.5 715.8M255.5 716.6L258.5 717.4M261.5 717.9L264.5 718.2M267.5 718.5L269.5 721.5M271.5 724.6L273.5 727.6M275.5 730.6L276.3 733.6M277.1 736.6L277.9 739.6M278.7 742.6L279.5 745.5M280.3 748.5L281.1 751.5M281.9 754.5L282.7 757.5M283.5 760.5L284.4 763.5M285.3 766.5L286.3 769.6M287.2 772.6L288.1 775.6M289.0 778.7L290.0 781.7M290.9 784.7L291.5 786.8M291.5 786.8L292.2 787.8M294.2 790.8L296.2 793.8M298.2 796.9L299.5 798.9M299.5 798.9L300.5 798.1M303.5 795.9L306.5 793.7M308.4 791.0L309.9 788.0M311.3 785.0L312.7 782.0M314.1 779.1L315.5 776.1M317.2 773.2L318.9 770.2M320.6 767.3L322.4 764.4M324.5 762.0L327.5 760.8M330.5 759.5L331.5 759.1M331.5 759.1L332.6 761.2M334.2 764.2L335.8 767.3M337.4 770.3L339.0 773.4M340.4 776.4L341.9 779.5M343.3 782.6L344.7 785.6M346.1 788.7L347.5 791.8M349.9 794.8L352.3 797.8M354.7 800.9L355.5 801.9M355.5 801.9L357.5 802.0M360.5 802.3L363.5 802.5M365.0 799.6L366.5 796.6M368.0 793.6L369.5 790.6M371.0 787.7L371.5 786.7M371.5 786.7L372.1 784.7M372.9 781.7L373.8 778.7M374.6 775.7L375.5 772.8M376.4 769.8L377.2 766.8M378.1 763.8L378.9 760.9M379.7 757.9L380.3 754.8M381.0 751.8L381.6 748.7M382.2 745.7L382.9 742.7M383.5 739.6L384.1 736.6M384.8 733.5L385.4 730.5M386.0 727.5L386.7 724.4M387.3 721.4L387.5 720.4M387.5 720.4L388.3 718.4M389.4 715.4L390.5 712.4M391.7 709.4L392.8 706.4M394.0 703.4L395.1 700.5M397.5 699.1L400.5 698.4M403.5 697.8L404.6 700.7M405.7 703.7L406.8 706.6M407.9 709.6L409.0 712.5M410.0 715.4L411.1 718.4M412.0 721.3L412.8 724.3M413.6 727.3L414.3 730.3M415.1 733.2L415.9 736.2M416.7 739.2L417.4 742.2M418.2 745.1L419.0 748.1M419.8 751.1L420.5 754.1M421.3 757.1L422.1 760.1M422.9 763.2L423.6 766.2M424.4 769.2L425.2 772.2M426.0 775.2L426.7 778.2M427.5 781.2L429.0 784.3M430.5 787.4L432.0 790.5M433.5 793.6L435.0 796.6M437.5 796.6L440.5 794.9M443.5 793.2L444.7 790.2M445.9 787.1L447.1 784.1M448.3 781.1L449.5 778.0M450.7 775.0L451.5 772.9M451.5 772.9L451.8 771.9M452.7 768.9L453.6 765.9M454.5 762.8L455.4 759.8M456.2 756.8L457.1 753.7M458.0 750.7L458.9 747.7M460.0 744.6L461.5 741.6M463.0 738.5L464.5 735.5M466.0 732.4L467.5 729.4M470.5 729.5L473.5 729.7M475.9 730.8L477.0 733.7M478.0 736.7L479.1 739.7M480.2 742.6L481.3 745.6M482.4 748.5L483.5 751.5M484.8 754.5L486.2 757.6M487.5 760.6L488.8 763.6M490.2 766.7L491.5 769.7M494.2 772.6L496.8 775.5M499.5 778.5L502.2 775.5M504.8 772.6L507.5 769.7M510.5 768.1L513.5 766.6M516.5 766.1L519.5 767.6M522.5 769.2L523.5 769.7M523.5 769.7L525.5 770.8M528.5 772.6L531.5 774.3M534.5 772.3L537.5 770.3M540.2 768.0L542.4 764.9M544.6 761.9L546.8 758.8M549.5 757.7L552.5 757.7M555.5 757.6L557.5 760.6M559.5 763.6L561.5 766.7M563.5 769.7L566.5 768.9M569.5 768.1L571.5 767.6M571.5 767.6L571.9 766.6M573.2 763.5L574.4 760.4M575.7 757.4L577.0 754.3M578.2 751.2L579.5 748.1M580.3 745.1L581.0 742.1M581.8 739.1L582.6 736.1M583.4 733.1L584.1 730.1M584.9 727.1L585.7 724.1M586.5 721.1L587.2 718.1M589.5 715.8L592.5 713.8M595.5 711.9L596.6 714.9M597.8 717.9L598.9 721.0M600.1 724.0L601.2 727.0M602.4 730.0L603.5 733.0M604.2 736.0L604.9 739.0M605.6 742.0L606.2 745.0M606.9 748.0L607.6 750.9M608.3 753.9L609.0 756.9M609.7 759.9L610.4 762.9M611.0 765.9L611.5 767.9M611.5 767.9L612.0 768.9M613.4 771.8L614.8 774.8M616.2 777.8L617.6 780.8M619.0 783.7L619.5 784.7M619.5 784.7L621.3 782.6M623.9 779.5L626.6 776.3M628.1 773.3L628.9 770.2M629.8 767.2L630.6 764.1M631.5 761.1L632.4 758.1M633.2 755.0L634.1 752.0M634.9 748.9L635.5 746.9M635.5 746.9L635.8 745.9M636.6 743.0L637.4 740.0M638.3 737.0L639.1 734.1M639.9 731.1L640.7 728.2M641.6 725.2L642.4 722.3M643.2 719.3L643.5 718.3M643.5 718.3L644.4 716.3M645.7 713.3L647.1 710.3M648.4 707.3L649.7 704.2M651.1 701.2L651.5 700.2M651.5 700.2L653.1 698.1M655.5 695.1L657.9 692.0M660.5 689.4L663.5 687.7M666.5 686.1L667.5 685.5M667.5 685.5L669.5 685.9M672.5 686.4L675.5 686.9M676.9 689.9L678.3 692.9M679.7 695.9L681.1 698.9M682.6 701.9L683.5 703.9M683.5 703.9L683.8 704.9M684.6 708.0L685.4 711.0M686.2 714.1L687.0 717.1M687.8 720.2L688.6 723.2M689.4 726.3L690.2 729.3M691.0 732.4L691.5 734.4M691.5 734.4L691.7 735.4M692.4 738.4L693.1 741.4M693.9 744.4L694.6 747.4M695.3 750.4L696.0 753.4M696.7 756.4L697.4 759.4M698.1 762.4L698.8 765.4M699.5 768.4L700.8 771.3M702.2 774.2L703.5 777.2M704.8 780.1L706.2 783.0M707.5 785.9L710.5 785.9M713.5 785.8L715.5 785.8M715.5 785.8L716.1 784.8M717.8 781.9L719.5 779.0M721.2 776.1L722.9 773.2M724.4 770.2L725.7 767.1M727.1 764.1L728.4 761.0M729.7 757.9L731.1 754.9M732.7 751.9L734.6 749.0M736.4 746.0L738.3 743.1M740.5 740.2L743.5 737.5M746.5 734.9L747.5 734.0M747.5 734.0L749.5 735.7M752.5 738.2L755.5 740.7M758.2 743.6L760.8 746.5M763.5 749.4L766.5 751.9M769.5 754.4L771.5 756.1M771.5 756.1L772.5 755.6M775.5 754.2L778.5 752.8M780.3 750.4L781.5 747.4M782.7 744.5L783.9 741.5M785.1 738.6L786.3 735.6M787.5 732.7L788.8 729.7M790.0 726.8L791.3 723.8M792.6 720.8L793.8 717.9M795.1 714.9L795.5 713.9M795.5 713.9L797.0 711.9M799.1 708.9L801.3 705.9M803.5 702.9L806.5 704.2M809.5 705.6L811.5 706.5M811.5 706.5L812.5 706.8M815.5 707.6L818.5 708.5M821.5 709.8L824.5 711.3M827.5 712.7L830.5 715.0M833.5 717.4L835.5 718.9M835.5 718.9L836.2 719.9M838.2 722.8L840.2 725.7M842.2 728.6L843.5 730.6M843.5 730.6L844.5 730.6M847.5 730.4L850.5 730.3M853.1 728.2L855.5 725.3M857.9 722.4L859.5 720.4M859.5 720.4L860.5 719.8M863.5 718.0L866.5 716.2M868.8 717.5L870.8 720.4M872.8 723.3L874.8 726.2M876.1 729.1L877.0 732.1M877.9 735.1L878.8 738.0M879.6 741.0L880.5 744.0M881.4 746.9L882.3 749.9M883.2 752.9L883.5 753.9M883.5 753.9L884.3 755.8M885.6 758.8L886.9 761.8M888.1 764.8L889.4 767.7M890.7 770.7L891.5 772.7M891.5 772.7L892.1 773.7M894.0 776.7L895.8 779.7M897.7 782.7L899.5 785.8M902.5 788.1L905.5 790.5M908.5 792.4L911.5 793.5M914.5 794.6L915.5 795.0M915.5 795.0L917.5 794.0M920.5 792.6L923.5 791.2M925.7 788.1L927.9 785.0M930.0 782.0L931.5 779.9M931.5 779.9L932.5 779.4M935.5 777.8L938.5 776.2M941.5 777.1L944.5 779.2M947.5 781.3L950.5 784.3M953.5 787.3L955.5 789.3M955.5 789.3L956.5 788.4M959.5 785.9L962.5 783.4M964.2 780.6L965.2 777.7M966.3 774.7L967.3 771.7M968.4 768.8L969.4 765.8M970.5 762.9L971.5 759.9M972.4 756.9L973.3 753.8M974.2 750.8L975.1 747.7M975.9 744.7L976.8 741.6M977.7 738.6L978.6 735.5M979.5 732.5L980.7 729.5M981.9 726.6L983.1 723.6M984.3 720.7L985.5 717.7M986.7 714.8L987.5 712.8M987.5 712.8L988.5 712.1M991.5 709.7L994.5 707.3M997.5 707.0L1000.5 707.7M1003.5 708.3L1006.5 709.3M1009.5 710.2L1011.5 710.8M1011.5 710.8L1012.4 709.8M1015.1 706.7L1017.7 703.7M1020.2 700.7L1022.2 697.8M1024.2 694.9L1026.2 692.0M1028.2 689.1L1030.4 686.0M1032.6 682.9L1034.8 679.9M1037.5 678.8L1040.5 678.7M1043.5 678.7L1046.5 680.4M1049.5 682.1L1051.5 683.3M1051.5 683.3L1052.0 684.3M1053.5 687.3L1055.0 690.4M1056.5 693.4L1058.0 696.5M1059.5 699.5L1060.3 702.5M1061.2 705.4L1062.0 708.4M1062.8 711.4L1063.6 714.3M1064.5 717.3L1065.3 720.2M1066.1 723.2L1066.9 726.1M1067.7 729.1L1068.4 732.1M1069.0 735.1L1069.7 738.1M1070.3 741.2L1071.0 744.2M1071.6 747.2L1072.3 750.2M1072.9 753.2L1073.6 756.2M1074.2 759.2L1074.9 762.3M1075.5 765.3L1076.5 768.3M1077.5 771.4L1078.5 774.4M1079.5 777.5L1080.5 780.5M1081.5 783.6L1082.5 786.6M1083.5 789.7L1085.9 792.8M1088.3 795.9L1090.7 799.1M1093.1 798.1L1095.5 795.2M1097.9 792.3L1099.5 790.3M1099.5 790.3L1100.2 789.3M1102.4 786.2L1104.6 783.1M1106.8 779.9L1107.5 778.9M1107.5 778.9L1108.1 776.9M1108.9 773.9L1109.7 771.0M1110.5 768.0L1111.4 765.0M1112.2 762.0L1113.0 759.0M1113.8 756.1L1114.7 753.1M1115.5 750.1L1116.8 747.1M1118.0 744.1L1119.3 741.2M1120.6 738.2L1121.8 735.2M1123.1 732.2L1123.5 731.2M1123.5 731.2L1125.5 729.9M1128.5 727.8L1131.5 725.8M1132.4 728.8L1133.3 731.8M1134.3 734.8L1135.2 737.8M1136.1 740.7L1137.0 743.7M1138.0 746.7L1138.9 749.7M1139.8 752.7L1140.5 755.7M1141.3 758.7L1142.1 761.7M1142.9 764.7L1143.6 767.7M1144.4 770.7L1145.2 773.7M1146.0 776.7L1146.7 779.7M1147.5 782.7L1148.9 785.7M1150.3 788.7L1151.7 791.8M1153.1 794.8L1154.6 797.8M1156.5 799.6L1159.5 799.0M1162.5 798.3L1163.5 798.1M1163.5 798.1L1164.6 796.1M1166.4 793.0L1168.1 790.0M1169.8 786.9L1171.5 783.8M1173.1 780.8L1174.7 777.8M1176.3 774.7L1177.9 771.7M1179.5 768.6L1180.6 765.7M1181.7 762.7L1182.8 759.7M1183.9 756.7L1185.0 753.7M1186.0 750.7L1187.1 747.8M1188.1 744.8L1189.1 741.8M1190.1 738.8L1191.0 735.9M1192.0 732.9L1192.9 729.9M1193.9 726.9L1194.9 724.0M1195.8 721.0L1196.8 718.0M1197.7 714.9L1198.7 711.9M1199.7 708.9L1200.6 705.9M1201.6 702.9L1202.5 699.9M1203.5 696.9L1205.3 693.9M1207.2 691.0L1209.0 688.0M1210.9 685.1L1211.5 684.1M1211.5 684.1L1213.5 683.8M1216.5 683.3L1219.5 682.8M1222.2 685.8L1224.8 688.8M1227.5 691.8L1229.1 694.8M1230.7 697.9L1232.3 700.9M1233.9 704.0L1235.5 707.1M1237.7 710.1L1239.9 713.1M1242.0 716.1L1243.5 718.1M1243.5 718.1L1244.5 718.7M1247.5 720.6L1250.5 722.5M1253.0 721.1L1255.1 718.2M1257.3 715.2L1259.5 712.2M1261.5 709.2L1263.5 706.1M1265.5 703.0L1267.5 699.9M1270.5 697.1L1273.5 694.3M1276.4 693.5L1279.1 696.6M1281.7 699.7L1283.5 701.8M1283.5 701.8L1283.8 702.8M1284.9 705.9L1285.9 708.9M1287.0 712.0L1288.0 715.0M1289.1 718.1L1290.1 721.1M1291.2 724.2L1291.5 725.2M1291.5 725.2L1292.1 727.2M1293.0 730.2L1293.9 733.2M1294.8 736.3L1295.6 739.3M1296.5 742.3L1297.4 745.3M1298.3 748.3L1299.2 751.3M1300.3 754.3L1301.5 757.3M1302.7 760.3L1303.9 763.2M1305.1 766.2L1306.3 769.2M1307.5 772.1L1310.5 771.4M1313.5 770.6L1315.5 770.1M1315.5 770.1L1315.9 769.1M1317.0 766.1L1318.2 763.1M1319.3 760.1L1320.5 757.1M1321.6 754.2L1322.7 751.2"/>
<g shape-rendering="crispEdges" fill="#000">
<rect x="2" y="2" width="1858" height="1"/>
<rect x="2" y="2" width="1" height="655"/>
<rect x="2" y="656" width="1858" height="1"/>
<rect x="2" y="658" width="1858" height="1"/>
<rect x="2" y="658" width="1" height="159"/>
<rect x="2" y="816" width="1858" height="1"/>
<rect x="1859" y="2" width="1" height="655"/>
<rect x="1859" y="658" width="1" height="159"/>
<rect x="1860" y="49" width="3" height="1"/>
<rect x="1860" y="98" width="3" height="1"/>
<rect x="1860" y="147" width="3" height="1"/>
<rect x="1860" y="196" width="3" height="1"/>
<rect x="1860" y="245" width="3" height="1"/>
<rect x="1860" y="294" width="3" height="1"/>
<rect x="1860" y="343" width="3" height="1"/>
<rect x="1860" y="392" width="3" height="1"/>
<rect x="1860" y="441" width="3" height="1"/>
<rect x="1860" y="490" width="3" height="1"/>
<rect x="1860" y="539" width="3" height="1"/>
<rect x="1860" y="588" width="3" height="1"/>
<rect x="1860" y="637" width="3" height="1"/>
<rect x="1860" y="660" width="2" height="1"/>
<rect x="1860" y="691" width="2" height="1"/>
<rect x="1860" y="784" width="2" height="1"/>
<rect x="1860" y="815" width="2" height="1"/>
<rect x="3" y="817" width="1" height="3"/>
<rect x="99" y="817" width="1" height="3"/>
<rect x="195" y="817" width="1" height="3"/>
<rect x="291" y="817" width="1" height="3"/>
<rect x="387" y="817" width="1" height="3"/>
<rect x="483" y="817" width="1" height="3"/>
<rect x="579" y="817" width="1" height="3"/>
<rect x="675" y="817" width="1" height="3"/>
<rect x="771" y="817" width="1" height="3"/>
<rect x="867" y="817" width="1" height="3"/>
<rect x="963" y="817" width="1" height="3"/>
<rect x="1059" y="817" width="1" height="3"/>
<rect x="1155" y="817" width="1" height="3"/>
<rect x="1251" y="817" width="1" height="3"/>
</g>
<text x="1866.5" y="54">1049.75</text>
<text x="1866.5" y="103">1036.75</text>
<text x="1866.5" y="152">1023.50</text>
<text x="1866.5" y="201">1010.25</text>
<text x="1866.5" y="250">997.00</text>
<text x="1866.5" y="299">983.75</text>
<text x="1866.5" y="348">970.75</text>
<text x="1866.5" y="397">957.50</text>
<text x="1866.5" y="446">944.25</text>
<text x="1866.5" y="495">931.00</text>
<text x="1866.5" y="544">917.75</text>
<text x="1866.5" y="593">904.75</text>
<text x="1866.5" y="642">891.50</text>
<text x="1863" y="672">100</text>
<text x="1863" y="695.7">80</text>
<text x="1863" y="789">20</text>
<text x="1863" y="813">0</text>
<rect x="1861" y="283" width="49" height="14" fill="#000" shape-rendering="crispEdges"/>
<text x="1866.5" y="295" fill="#fff" style="fill:#fff">984.87</text>
<rect x="1861" y="289" width="49" height="14" fill="#556b2f" shape-rendering="crispEdges"/>
<text x="1866.5" y="300.5" style="fill:#fff">983.53</text>
<rect x="1861" y="525" width="49" height="14" fill="#556b2f" shape-rendering="crispEdges"/>
<text x="1866.5" y="536.5" style="fill:#fff">920.15</text>
<text x="1857.5" y="73" text-anchor="end">38.2</text>
<text x="1857.5" y="169" text-anchor="end" style="fill:#808080">61.8</text>
<text x="1857.5" y="294" text-anchor="end" style="fill:#808080">50.0</text>
<text x="1857.5" y="419" text-anchor="end" style="fill:#808080">38.2</text>
<text x="1857.5" y="417" text-anchor="end">50.0</text>
<text x="1857.5" y="573" text-anchor="end" style="fill:#808080">23.6</text>
<text x="2.6" y="831.6" style="font-size:12.3px">13 Sep 2024</text>
<text x="98.6" y="831.6" style="font-size:12.3px">1 Oct 2024</text>
<text x="194.6" y="831.6" style="font-size:12.3px">17 Oct 2024</text>
<text x="290.6" y="831.6" style="font-size:12.3px">4 Nov 2024</text>
<text x="386.6" y="831.6" style="font-size:12.3px">20 Nov 2024</text>
<text x="482.6" y="831.6" style="font-size:12.3px">6 Dec 2024</text>
<text x="578.6" y="831.6" style="font-size:12.3px">24 Dec 2024</text>
<text x="674.6" y="831.6" style="font-size:12.3px">13 Jan 2025</text>
<text x="770.6" y="831.6" style="font-size:12.3px">29 Jan 2025</text>
<text x="866.6" y="831.6" style="font-size:12.3px">14 Feb 2025</text>
<text x="962.6" y="831.6" style="font-size:12.3px">4 Mar 2025</text>
<text x="1058.6" y="831.6" style="font-size:12.3px">20 Mar 2025</text>
<text x="1154.6" y="831.6" style="font-size:12.3px">7 Apr 2025</text>
<text x="1250.6" y="831.6" style="font-size:12.3px">24 Apr 2025</text>
<path d="M6 10 L15.4 10 L10.7 15.2 Z" fill="#000"/>
<text x="20.8" y="17" textLength="81.7" lengthAdjust="spacingAndGlyphs">XPTUSD.s,Daily</text>
<text x="110.7" y="17" textLength="166.8" lengthAdjust="spacingAndGlyphs">986.03 988.93 976.85 984.87</text>
<text x="7.5" y="673.8" textLength="70.5" lengthAdjust="spacingAndGlyphs">Stoch(5,3,3)</text>
<text x="82" y="673.8" textLength="95.8" lengthAdjust="spacingAndGlyphs">64.9165 41.0502</text>
<g>
<text x="49" y="633.6" textLength="246" lengthAdjust="spacingAndGlyphs" style="font-size:50px;fill:#ffd9c4;stroke:#ffd9c4;stroke-width:1.1px;stroke-linejoin:round">economies</text>
<text x="293.5" y="633.6" textLength="96.5" lengthAdjust="spacingAndGlyphs" style="font-size:50px;fill:#e4e4e4">.com</text>
</g>
<g opacity="0.97">
<text y="672.6" style="font-size:43.5px;font-weight:bold;fill:url(#wg)"><tspan x="87" textLength="47" lengthAdjust="spacingAndGlyphs">F<tspan style="fill:#f4f4f4">x</tspan></tspan><tspan x="134" textLength="101.5" lengthAdjust="spacingAndGlyphs">News</tspan><tspan x="235.3" textLength="110.5" lengthAdjust="spacingAndGlyphs">Today</tspan></text>
<path d="M112 651 L120.5 659.5 L131.5 650.5" fill="none" stroke="#efcaca" stroke-width="2.6" stroke-linecap="round" stroke-linejoin="round"/>
<path d="M115.5 669 L125 661 L133.5 668.5" fill="none" stroke="#cfe6cf" stroke-width="2.6" stroke-linecap="round" stroke-linejoin="round"/>
</g>
</svg></body></html>
